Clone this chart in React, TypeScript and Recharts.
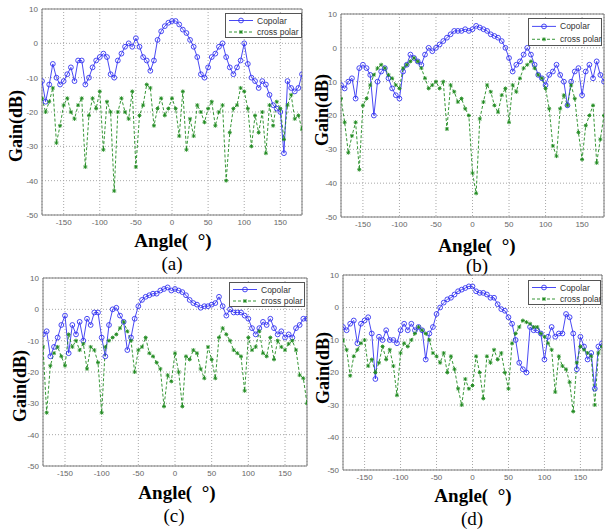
import React from "react";
import { LineChart, Line, XAxis, YAxis, CartesianGrid, ReferenceArea } from "recharts";

// measured angle grid (deg)
const angles = [
  -180, -175, -170, -165, -160, -155, -150, -145, -140, -135,
  -130, -125, -120, -115, -110, -105, -100, -95, -90, -85,
  -80, -75, -70, -65, -60, -55, -50, -45, -40, -35,
  -30, -25, -20, -15, -10, -5, 0, 5, 10, 15,
  20, 25, 30, 35, 40, 45, 50, 55, 60, 65,
  70, 75, 80, 85, 90, 95, 100, 105, 110, 115,
  120, 125, 130, 135, 140, 145, 150, 155, 160, 165,
  170, 175, 180,
];

// (a)
const copolarA = [
  -11, -17, -12, -6, -10, -12, -11, -9, -7, -11,
  -5, -5, -12, -10, -7, -5, -4, -3, -4, -9,
  -10, -5, -3, -1, 0, -1, 1.5, -1, -4, -5,
  -8, -5, 1, 3.5, 5, 6, 6.5, 6.5, 5.5, 4,
  3, 1, -1, -4, -9, -10, -7, -4, -3, -1,
  0, -4, -7, -9, -7, -5, 0, -6, -10, -11,
  -13, -11, -12, -15, -18, -19, -20, -32, -11, -13,
  -14, -13, -9,
];
const crossA = [
  -16, -20, -17, -13, -29, -24, -18, -16, -20, -22,
  -18, -16, -36, -21, -16, -19, -14, -31, -17, -20,
  -43, -20, -16, -20, -22, -14, -36, -21, -18, -12,
  -13, -24, -19, -16, -21, -19, -16, -19, -27, -14,
  -31, -22, -27, -18, -20, -23, -19, -17, -24, -20,
  -18, -40, -26, -19, -18, -13, -14, -19, -30, -21,
  -26, -20, -32, -18, -24, -17, -19, -28, -18, -15,
  -22, -21, -25,
];

// (b)
const copolarB = [
  -11, -12, -10, -9, -15, -6, -5, -6, -8, -20,
  -10, -7, -6, -9, -12, -14, -15, -7, -5, -2,
  -3, -4, -5, -2, 0, -1, 0, 1, 2, 3,
  4, 5, 5, 5, 5.5, 5, 5.5, 6.5, 6, 5.5,
  5, 4, 3.5, 3, 2, 0, -3, -7, -5, -4,
  -2, 0, -2, -5, -8, -9, -11, -8, -7, -5,
  -8, -10, -17, -10, -7, -6, -14, -7, -5, -9,
  -4, -8, -10,
];
const crossB = [
  -15, -22, -31, -26, -22, -36, -17, -15, -11, -8,
  -6, -5, -6, -8, -9, -11, -12, -6, -5, -4,
  -3, -4, -6, -9, -12, -11, -10, -12, -10, -24,
  -11, -13, -16, -15, -18, -20, -37, -43, -21, -16,
  -11, -13, -17, -19, -14, -12, -22, -11, -13, -9,
  -6, -5, -4, -6, -8, -9, -12, -18, -29, -32,
  -18, -14, -17, -11, -15, -25, -33, -23, -20, -17,
  -34, -27, -20,
];

// (c)
const copolarC = [
  -8, -7, -15, -12, -9, -5, -2, -14, -5, -8,
  -4, -10, -3, -5, -1, -1, -9, -15, -5, 0,
  0.5, -2, -4, -13, -9, -3, 1, 3, 4, 4.5,
  5, 5, 6, 6.5, 7, 6, 6.5, 6, 5.5, 4.5,
  3, 2, 1.5, 0.5, 1, 1, 1.5, 2, 4, 1,
  -2, 0, -1, -1, -1, -2, -3, -6, -8, -6,
  -4, -5, -3, -6, -8, -7, -9, -8, -9, -6,
  -5, -3, -3,
];
const crossC = [
  -12, -33, -18, -14, -12, -15, -18, -8, -12, -10,
  -13, -11, -19, -12, -13, -17, -33, -12, -10, -9,
  -8, -6, -4, -7, -10, -20, -13, -12, -9, -14,
  -15, -17, -19, -31, -21, -23, -14, -20, -31, -15,
  -16, -13, -14, -19, -22, -12, -16, -22, -9, -6,
  -8, -10, -13, -14, -15, -26, -9, -13, -12, -7,
  -14, -15, -9, -16, -10, -12, -13, -11, -10, -13,
  -21, -22, -30,
];

// (d)
const copolarD = [
  -6, -7, -5, -4, -11, -5, -4, -3, -8, -22,
  -9, -10, -7, -10, -10, -11, -7, -5, -7, -5,
  -7, -6, -7, -16, -8, -6, -2, 0, 1.5, 2.5,
  3, 4, 5, 5.5, 6, 6.5, 6.5, 5, 4.5, 4.5,
  4, 3, 3, 1, -0.5, -1, -3, -5, -10, -17,
  -19, -20, -6, -7, -7, -8, -16, -9, -6, -9,
  -8, -8, -2, -3, -8, -19, -9, -12, -16, -14,
  -25, -12, -11,
];
const crossD = [
  -10, -13, -21, -15, -13, -11, -10, -18, -16, -20,
  -17, -12, -16, -13, -18, -27, -14, -11, -12, -10,
  -8, -6, -7, -8, -10, -14, -15, -17, -14, -20,
  -15, -19, -25, -30, -22, -25, -24, -15, -20, -28,
  -15, -17, -13, -16, -14, -20, -25, -11, -8, -6,
  -4, -4.5, -5, -6, -6, -8, -9, -11, -13, -26,
  -15, -18, -19, -23, -32, -17, -12, -13, -14, -15,
  -30, -14, -12,
];

const xTicks = [-150, -100, -50, 0, 50, 100, 150];
const yTicks = [-50, -40, -30, -20, -10, 0, 10];
const seriesNames = ["Copolar", "cross polar"];

const BLUE = "#3434f2";
const GREEN = "#1f8a1f";
const SERIF = "'Liberation Serif', 'Times New Roman', serif";
const SANS = "'Liberation Sans', Arial, sans-serif";

function CircleDot(props: any) {
  const { cx, cy, index } = props;
  if (cx == null || cy == null) return <g key={index} />;
  return <circle key={index} cx={cx} cy={cy} r={2.4} fill="none" stroke={BLUE} strokeWidth={0.9} />;
}

function StarDot(props: any) {
  const { cx, cy, index } = props;
  if (cx == null || cy == null) return <g key={index} />;
  const r = 2;
  return (
    <g key={index} stroke={GREEN} strokeWidth={0.9}>
      <line x1={cx - r} y1={cy} x2={cx + r} y2={cy} />
      <line x1={cx} y1={cy - r} x2={cx} y2={cy + r} />
      <line x1={cx - 1.5} y1={cy - 1.5} x2={cx + 1.5} y2={cy + 1.5} />
      <line x1={cx - 1.5} y1={cy + 1.5} x2={cx + 1.5} y2={cy - 1.5} />
    </g>
  );
}

const panels = [
  { id: "a", co: copolarA, xp: crossA, x: 42, y: 8.5, w: 260, h: 206,
    gain: [16, 126], angle: [173, 240], cap: [172, 263], leg: [225, 13, 77, 25] },
  { id: "b", co: copolarB, xp: crossB, x: 341, y: 13.7, w: 263, h: 203,
    gain: [322, 110], angle: [477, 245], cap: [477, 265], leg: [528, 18, 74, 28] },
  { id: "c", co: copolarC, xp: crossC, x: 42.6, y: 278.3, w: 264, h: 188,
    gain: [20, 386], angle: [177, 492], cap: [174, 515], leg: [229, 282, 76, 25] },
  { id: "d", co: copolarD, xp: crossD, x: 342.7, y: 275, w: 259, h: 195,
    gain: [323, 368], angle: [473, 495], cap: [472, 518], leg: [528, 280, 73, 25] },
];

const ML = 30;
const MT = 8;
const MR = 4;
const XH = 16;

function LegendBox({ box }: { box: number[] }) {
  const [lx, ly, lw, lh] = box;
  const r1 = lh * 0.3;
  const r2 = lh * 0.76;
  return (
    <svg style={{ position: "absolute", left: lx, top: ly }} width={lw} height={lh}>
      <rect x={0.5} y={0.5} width={lw - 1} height={lh - 1} fill="#fff" stroke="#555" strokeWidth={1} />
      <line x1={4} y1={r1} x2={28} y2={r1} stroke={BLUE} strokeWidth={0.9} />
      <CircleDot cx={16} cy={r1} index={0} />
      <line x1={4} y1={r2} x2={28} y2={r2} stroke={GREEN} strokeWidth={0.9} strokeDasharray="3 2" />
      <StarDot cx={16} cy={r2} index={1} />
      <text x={32} y={r1 + 3} fontSize={8.5} fontFamily={SANS} fill="#333">{seriesNames[0]}</text>
      <text x={32} y={r2 + 3} fontSize={8.5} fontFamily={SANS} fill="#333">{seriesNames[1]}</text>
    </svg>
  );
}

function Panel({ p }: { p: any }) {
  const data = angles.map((a, i) => ({ angle: a, co: p.co[i], xp: p.xp[i] }));
  const tickStyle = { fontSize: 8, fill: "#666", fontFamily: SANS };
  const centered = { position: "absolute" as const, transform: "translate(-50%, -50%)", whiteSpace: "nowrap" as const, fontFamily: SERIF, color: "#000", lineHeight: 1 };
  return (
    <>
      <div style={{ position: "absolute", left: p.x - ML, top: p.y - MT }}>
        <LineChart
          width={ML + p.w + MR}
          height={MT + p.h + XH}
          data={data}
          margin={{ top: MT, right: MR, left: 0, bottom: 0 }}
        >
          <CartesianGrid stroke="#a8a8a8" strokeDasharray="1 2" />
          <XAxis
            dataKey="angle"
            type="number"
            domain={[-180, 180]}
            ticks={xTicks}
            interval={0}
            height={XH}
            tickSize={0}
            tickMargin={4}
            axisLine={false}
            tick={tickStyle}
            allowDataOverflow
          />
          <YAxis
            type="number"
            domain={[-50, 10]}
            ticks={yTicks}
            interval={0}
            width={ML}
            tickSize={0}
            tickMargin={4}
            axisLine={false}
            tick={tickStyle}
            allowDataOverflow
          />
          <ReferenceArea x1={-180} x2={180} y1={-50} y2={10} fill="none" stroke="#7d7d7d" strokeWidth={1} />
          <Line type="linear" dataKey="co" stroke={BLUE} strokeWidth={0.9} dot={CircleDot} isAnimationActive={false} />
          <Line type="linear" dataKey="xp" stroke={GREEN} strokeWidth={0.9} strokeDasharray="3 2" dot={StarDot} isAnimationActive={false} />
        </LineChart>
      </div>
      <LegendBox box={p.leg} />
      <div style={{ ...centered, left: p.gain[0], top: p.gain[1], fontSize: 18, fontWeight: "bold", transform: "translate(-50%, -50%) rotate(-90deg)" }}>
        Gain(dB)
      </div>
      <div style={{ ...centered, left: p.angle[0], top: p.angle[1], fontSize: 19, fontWeight: "bold" }}>
        Angle(&nbsp;&nbsp;°)
      </div>
      <div style={{ ...centered, left: p.cap[0], top: p.cap[1], fontSize: 19 }}>({p.id})</div>
    </>
  );
}

export default function App() {
  return (
    <div style={{ position: "absolute", left: 0, top: 0, width: 611, height: 531, background: "#fff", overflow: "hidden" }}>
      {panels.map((p) => (
        <Panel key={p.id} p={p} />
      ))}
    </div>
  );
}
